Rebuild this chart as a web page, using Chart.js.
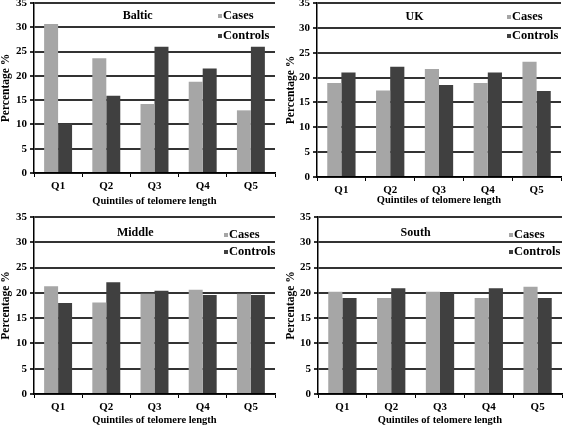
<!DOCTYPE html>
<html>
<head>
<meta charset="utf-8">
<script src="https://cdn.jsdelivr.net/npm/chart.js@4"></script>
<style>
  html, body { margin: 0; padding: 0; background: #fff; }
  #wrap { position: relative; width: 567px; height: 426px; overflow: hidden; }
  #wrap canvas { position: absolute; }
</style>
</head>
<body>
<div id="wrap"></div>
<script>
// 데이터
const quintiles = ['Q1', 'Q2', 'Q3', 'Q4', 'Q5'];
const balticCases = [30.7, 23.6, 14.2, 18.8, 12.9];
const balticControls = [10.2, 15.9, 26.0, 21.5, 26.0];
const ukCases = [18.9, 17.4, 21.7, 18.9, 23.2];
const ukControls = [21.0, 22.2, 18.5, 21.0, 17.3];
const middleCases = [21.3, 18.1, 19.8, 20.6, 19.8];
const middleControls = [18.0, 22.1, 20.4, 19.6, 19.6];
const southCases = [20.2, 19.0, 20.2, 19.0, 21.2];
const southControls = [19.0, 20.9, 20.0, 20.9, 19.0];
const yMax = 35;
const yStep = 5;

const FONT = '"Liberation Serif", "DejaVu Serif", serif';
const CASES_COLOR = '#a6a6a6';
const CONTROLS_COLOR = '#404040';

// 패널 배치 (캔버스 위치와 플롯 영역)
const panels = [
  { name: 'Baltic', cases: balticCases, controls: balticControls,
    x: 0, y: 0, w: 285, h: 210, left: 34, right: 275, top: 3, bottom: 173,
    titleX: 0.43, titleDy: 13, legX: 218, legDy: 13, legGap: 20, xTitlePad: 3 },
  { name: 'UK', cases: ukCases, controls: ukControls,
    x: 285, y: 0, w: 282, h: 210, left: 32, right: 276, top: 3, bottom: 177,
    titleX: 0.40, titleDy: 14, legX: 222, legDy: 14, legGap: 19, xTitlePad: 4 },
  { name: 'Middle', cases: middleCases, controls: middleControls,
    x: 0, y: 210, w: 285, h: 216, left: 34, right: 275, top: 7, bottom: 184,
    titleX: 0.42, titleDy: 16, legX: 224, legDy: 18, legGap: 17, xTitlePad: 0 },
  { name: 'South', cases: southCases, controls: southControls,
    x: 285, y: 210, w: 282, h: 216, left: 33, right: 277, top: 7, bottom: 184,
    titleX: 0.40, titleDy: 16, legX: 224, legDy: 18, legGap: 17, xTitlePad: 0 },
];

// 플롯 안쪽 제목과 범례
const insideLabels = {
  id: 'insideLabels',
  afterDraw(chart, args, opts) {
    const { ctx, chartArea } = chart;
    const p = opts.panel;
    ctx.save();
    ctx.fillStyle = '#000';
    ctx.font = 'bold 12px ' + FONT;
    ctx.textAlign = 'center';
    ctx.textBaseline = 'middle';
    ctx.fillText(p.name, chartArea.left + p.titleX * chartArea.width, chartArea.top + p.titleDy);
    ctx.textAlign = 'left';
    ctx.font = 'bold 12.5px ' + FONT;
    chart.data.datasets.forEach((ds, i) => {
      const yy = chartArea.top + p.legDy + i * p.legGap;
      ctx.fillStyle = ds.backgroundColor;
      ctx.fillRect(p.legX, yy - 2, 4, 4);
      ctx.fillStyle = '#000';
      ctx.fillText(ds.label, p.legX + 5, yy);
    });
    ctx.restore();
  }
};

function createPanel(p) {
  const canvas = document.createElement('canvas');
  canvas.width = p.w;
  canvas.height = p.h;
  canvas.style.left = p.x + 'px';
  canvas.style.top = p.y + 'px';
  canvas.style.width = p.w + 'px';
  canvas.style.height = p.h + 'px';
  document.getElementById('wrap').appendChild(canvas);

  return new Chart(canvas.getContext('2d'), {
    type: 'bar',
    data: {
      labels: quintiles,
      datasets: [
        { label: 'Cases', data: p.cases, backgroundColor: CASES_COLOR, borderWidth: 0 },
        { label: 'Controls', data: p.controls, backgroundColor: CONTROLS_COLOR, borderWidth: 0 },
      ],
    },
    options: {
      responsive: false,
      animation: false,
      devicePixelRatio: 1,
      categoryPercentage: 0.58,
      barPercentage: 1.0,
      layout: { padding: { top: p.top, right: p.w - p.right, left: 0, bottom: 0 } },
      plugins: {
        legend: { display: false },
        tooltip: { enabled: false },
        insideLabels: { panel: p },
      },
      scales: {
        x: {
          afterFit(scale) {
            scale.height = p.h - p.bottom;
            scale.paddingLeft = 0; scale.paddingRight = 0;
          },
          grid: { drawOnChartArea: false, drawTicks: true, tickLength: 4, color: '#000', lineWidth: 1 },
          border: { color: '#000', width: 1.5 },
          ticks: { color: '#000', padding: 3, font: { family: FONT, size: 11, weight: 'bold' } },
          title: {
            display: true, text: 'Quintiles of telomere length', color: '#000',
            padding: { top: 0, bottom: p.xTitlePad },
            font: { family: FONT, size: 10.5, weight: 'bold', lineHeight: 1 },
          },
        },
        y: {
          min: 0,
          max: yMax,
          afterFit(scale) {
            scale.width = p.left;
            scale.paddingTop = 0; scale.paddingBottom = 0;
          },
          grid: { color: '#333', lineWidth: 2, tickLength: 4 },
          border: { color: '#000', width: 1.5 },
          ticks: { stepSize: yStep, color: '#000', padding: 3, font: { family: FONT, size: 11, weight: 'bold' } },
          title: {
            display: true, text: 'Percentage %', color: '#000',
            padding: { top: 0, bottom: 0 },
            font: { family: FONT, size: 11.5, weight: 'bold', lineHeight: 1 },
          },
        },
      },
    },
    plugins: [insideLabels],
  });
}

window.addEventListener('DOMContentLoaded', () => {
  panels.forEach(createPanel);
});
</script>
</body>
</html>
